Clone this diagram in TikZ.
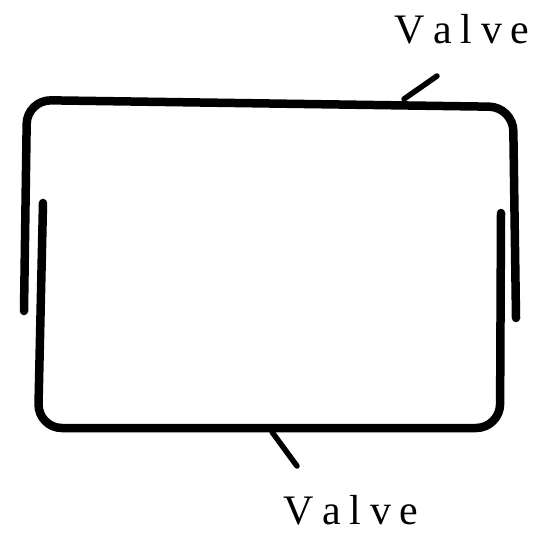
\documentclass[tikz,border=0pt]{standalone}
\usepackage{fontspec}
\setmainfont{Liberation Serif}
\newcommand{\spacedvalve}{V\kern8pt a\kern9pt l\kern9pt v\kern8pt e}
\tikzset{
  pipe/.style={line width=8.5pt, line cap=round, line join=round, rounded corners=24pt},
  pointer/.style={line width=5.5pt, line cap=round},
  lbl/.style={font=\fontsize{42}{46}\selectfont, inner sep=0pt, anchor=center}
}
\begin{document}
\begin{tikzpicture}[x=1pt, y=-1pt]
\useasboundingbox (0,0) rectangle (540,539);
% outer pipe
\draw[pipe] (24,311) -- (27,100) -- (513,107) -- (516,318);
% inner pipe
\draw[pipe] (43,203) -- (38,428) -- (500,428) -- (501,213);
% labels
\node[lbl] (vtop) at (462,29) {\spacedvalve};
\node[lbl] (vbot) at (351,510) {\spacedvalve};
% pointer ends
\coordinate (ptop) at (404,99);
\coordinate (ptopend) at (437,76);
\coordinate (pbot) at (272,432);
\coordinate (pbotend) at (297,466);
\draw[pointer] (ptop) -- (ptopend);
\draw[pointer] (pbot) -- (pbotend);
\end{tikzpicture}
\end{document}
